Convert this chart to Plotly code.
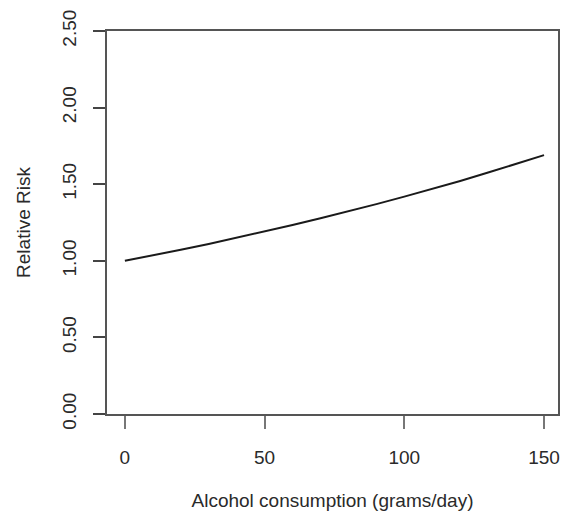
import plotly.graph_objects as go

alcohol = [0, 10, 20, 30, 40, 50, 60, 70, 80, 90, 100, 110, 120, 130, 140, 150]
relative_risk = [1.000, 1.035, 1.072, 1.110, 1.150, 1.191, 1.234, 1.278, 1.323,
                 1.370, 1.419, 1.469, 1.521, 1.576, 1.632, 1.690]
x_ticks = [0, 50, 100, 150]
y_ticks = [0, 0.5, 1.0, 1.5, 2.0, 2.5]
y_tick_labels = ["0.00", "0.50", "1.00", "1.50", "2.00", "2.50"]

fig = go.Figure()
fig.add_trace(go.Scatter(x=alcohol, y=relative_risk, mode="lines",
                         line=dict(color="#1a1a1a", width=2),
                         showlegend=False))

font = dict(family="Liberation Sans, Arial, sans-serif", size=19, color="#2a2a2a")

fig.update_layout(
    width=564, height=512,
    margin=dict(l=107, r=4, t=31, b=98),
    paper_bgcolor="white", plot_bgcolor="white",
    font=font,
    xaxis=dict(range=[-6.4, 155], tickvals=x_ticks, ticks="outside", ticklen=13,
               tickcolor="#777", tickwidth=2, showgrid=False, zeroline=False,
               showline=True, mirror=True, linecolor="#555", linewidth=2,
               ticklabelstandoff=12,
               title=dict(text="Alcohol consumption (grams/day)", standoff=27,
                         font=font)),
    yaxis=dict(range=[0, 2.5], tickvals=y_ticks, ticktext=y_tick_labels,
               tickangle=-90, ticks="outside", ticklen=12, tickcolor="#444",
               tickwidth=2, showgrid=False, zeroline=False,
               showline=True, mirror=True, linecolor="#555", linewidth=2,
               ticklabelstandoff=9,
               title=dict(text="Relative Risk", standoff=24, font=font)),
)

fig.write_html("out.html")
